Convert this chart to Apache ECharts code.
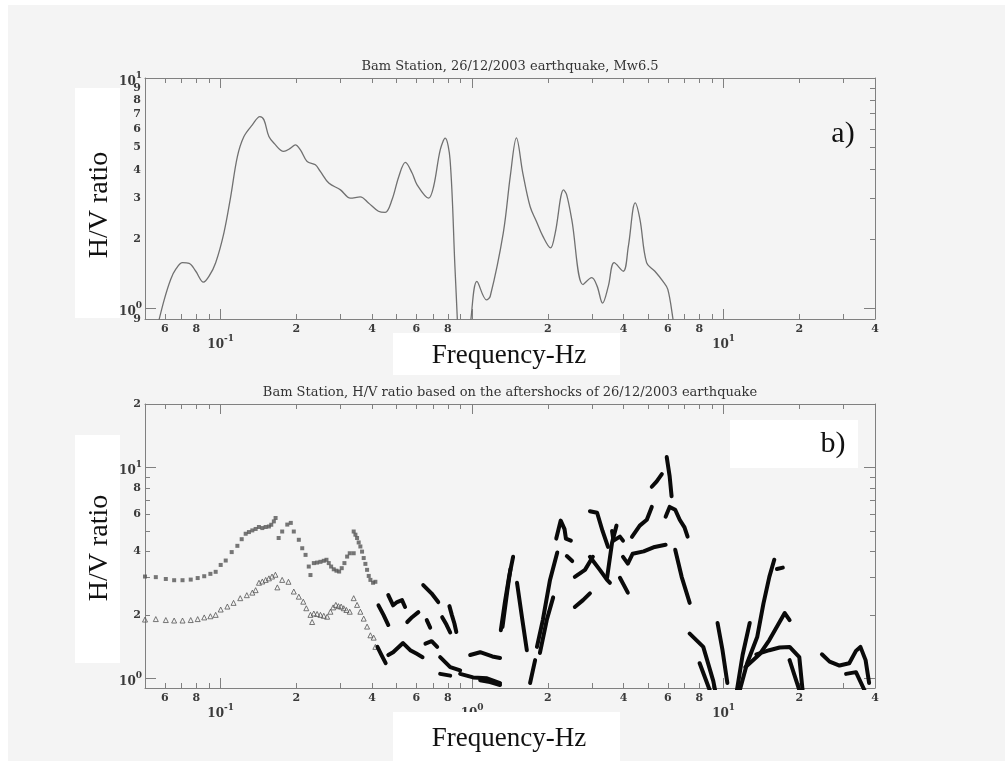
<!DOCTYPE html>
<html><head><meta charset="utf-8">
<script src="https://cdn.jsdelivr.net/npm/echarts@6/dist/echarts.min.js"></script>
<style>html,body{margin:0;padding:0;background:#f4f4f4;overflow:hidden;}#c{width:1005px;height:761px;}</style>
</head><body><div id="c"></div>
<script>
// ---- text ----
const topTitle = 'Bam Station, 26/12/2003 earthquake, Mw6.5';
const bottomTitle = 'Bam Station, H/V ratio based on the aftershocks of 26/12/2003 earthquake';
const xName = 'Frequency-Hz';
const yName = 'H/V ratio';

// ---- ticks / labels ----
const xMinorTicks = [0.06,0.07,0.08,0.09,0.2,0.3,0.4,0.5,0.6,0.7,0.8,0.9,2,3,4,5,6,7,8,9,20,30];
const xMinorLabels = [0.06,0.08,0.2,0.4,0.6,0.8,2,4,6,8,20,40];
const xDecades = [0.1,1,10];
const topYMinorTicks = [2,3,4,5,6,7,8,9];
const topYMinorLabels = [0.9,2,3,4,5,6,7,8,9];
const topYDecades = [1,10];
const botYMinorTicks = [2,3,4,5,6,7,8,9];
const botYMinorLabels = [2,4,6,8,20];
const botYDecades = [1,10];

// ---- a) main shock H/V curve [Hz, ratio] ----
const mainshockHV = [
 [0.0555,0.80],[0.0596,1.09],[0.0633,1.34],[0.0663,1.48],[0.0705,1.58],[0.0749,1.57],[0.0796,1.45],
 [0.0854,1.30],[0.0899,1.38],[0.0955,1.58],[0.103,2.13],[0.1096,3.06],[0.1165,4.56],[0.1237,5.57],
 [0.1336,6.26],[0.1432,6.80],[0.1486,6.58],[0.1555,5.57],[0.163,5.21],[0.178,4.80],[0.1896,4.96],
 [0.198,5.13],[0.2075,4.88],[0.2207,4.34],[0.238,4.20],[0.249,3.93],[0.269,3.50],[0.2995,3.27],
 [0.328,3.01],[0.359,3.05],[0.387,2.87],[0.424,2.64],[0.451,2.61],[0.480,2.96],[0.511,3.74],
 [0.5425,4.30],[0.577,3.87],[0.604,3.44],[0.671,3.01],[0.703,3.39],[0.7465,4.88],[0.781,5.48],
 [0.817,4.42],[0.854,1.52],[0.873,0.90],[0.88,0.70],[0.975,0.70],[0.989,0.90],[1.045,1.31],
 [1.14,1.09],[1.18,1.13],[1.33,2.13],[1.42,3.80],[1.50,5.50],[1.59,3.87],[1.70,2.77],[1.80,2.39],
 [1.91,2.06],[2.05,1.83],[2.14,2.13],[2.31,3.27],[2.375,3.12],[2.49,2.43],[2.76,1.27],[2.99,1.36],
 [3.14,1.25],[3.30,1.055],[3.48,1.25],[3.67,1.58],[3.99,1.45],[4.18,1.86],[4.45,2.87],[4.65,2.43],
 [4.94,1.58],[5.33,1.45],[5.74,1.31],[6.00,1.21],[6.29,0.90],[6.5,0.70]
];

// ---- b) aftershocks ----
const aftershockUpper = [
 [0.050,3.04],[0.0552,3.02],[0.0605,2.96],[0.0653,2.92],[0.0705,2.92],[0.076,2.94],[0.081,2.99],
 [0.086,3.05],[0.091,3.13],[0.0955,3.20],[0.100,3.45],[0.1047,3.62],[0.1106,3.97],[0.1165,4.25],
 [0.1212,4.57],[0.1257,4.85],[0.1295,4.94],[0.1336,5.03],[0.1377,5.11],[0.1419,5.22],[0.1464,5.16],
 [0.1509,5.22],[0.1555,5.25],[0.1589,5.35],[0.1627,5.55],[0.1653,5.76],[0.170,4.63],[0.1756,4.97],
 [0.184,5.36],[0.190,5.46],[0.1953,4.97],[0.2045,4.54],[0.211,4.14],[0.2175,3.85],[0.224,3.39],
 [0.2275,3.09],[0.2346,3.52],[0.2418,3.54],[0.2493,3.57],[0.257,3.61],[0.2634,3.65],[0.269,3.52],
 [0.2749,3.39],[0.2816,3.29],[0.2886,3.24],[0.2958,3.21],[0.3029,3.33],[0.3105,3.52],[0.3183,3.78],
 [0.326,3.92],[0.338,3.92],[0.338,4.97],[0.3434,4.80],[0.3486,4.63],[0.3538,4.41],[0.3593,4.22],
 [0.3649,3.99],[0.3704,3.72],[0.3762,3.49],[0.3821,3.27],[0.3879,3.06],[0.3939,2.93],[0.4036,2.84],
 [0.4122,2.87]
];
const aftershockLower = [
 [0.050,1.90],[0.0552,1.91],[0.0605,1.89],[0.0653,1.88],[0.0705,1.88],[0.076,1.89],[0.081,1.91],
 [0.086,1.945],[0.091,1.97],[0.0955,2.00],[0.100,2.12],[0.1063,2.19],[0.1125,2.28],[0.1196,2.40],
 [0.127,2.48],[0.1336,2.55],[0.1377,2.62],[0.142,2.84],[0.1464,2.88],[0.151,2.93],[0.1555,2.98],
 [0.160,3.04],[0.165,3.10],[0.168,2.70],[0.1756,2.93],[0.186,2.87],[0.1953,2.58],[0.2045,2.44],
 [0.213,2.31],[0.219,2.15],[0.2275,2.00],[0.231,1.85],[0.2346,2.03],[0.2418,2.02],[0.2493,2.00],
 [0.257,1.98],[0.2651,1.96],[0.2732,2.07],[0.280,2.17],[0.287,2.23],[0.2939,2.20],[0.3013,2.19],
 [0.3085,2.15],[0.3162,2.11],[0.326,2.07],[0.338,2.40],[0.3486,2.23],[0.3593,2.07],[0.3704,1.92],
 [0.3821,1.76],[0.3939,1.60],[0.4059,1.56],[0.4122,1.41]
];
const segsLow = [
 [[0.424,2.22],[0.444,2.0],[0.464,1.79]],
 [[0.464,2.48],[0.485,2.22],[0.503,2.30],[0.526,2.35],[0.541,2.18]],
 [[0.552,1.85],[0.577,1.95],[0.611,2.06]],
 [[0.639,2.77],[0.689,2.53],[0.733,2.30]],
 [[0.660,1.89],[0.681,1.74]],
 [[0.760,1.95],[0.790,1.80],[0.818,1.65]],
 [[0.812,2.20],[0.830,2.00],[0.850,1.82],[0.865,1.66]],
 [[0.420,1.41],[0.436,1.29],[0.453,1.18]],
 [[0.464,1.29],[0.485,1.33],[0.531,1.47],[0.567,1.36],[0.600,1.31],[0.635,1.26]],
 [[0.652,1.46],[0.690,1.50],[0.726,1.41]],
 [[0.746,1.26],[0.818,1.13],[0.896,1.09]],
 [[0.746,1.05],[0.818,1.03]],
 [[0.896,1.05],[1.009,1.01],[1.146,1.00],[1.291,0.95]],
 [[0.982,1.29],[1.076,1.33],[1.203,1.27],[1.291,1.25]],
 [[1.076,0.98],[1.178,0.96],[1.291,0.93]]
];
const segsMid = [
 [[1.30,1.69],[1.35,2.30],[1.40,3.00],[1.455,3.77]],
 [[1.32,1.75],[1.38,2.60],[1.42,3.30]],
 [[1.508,2.84],[1.578,1.95],[1.65,1.36]],
 [[1.70,0.95],[1.78,1.22]],
 [[1.81,1.41],[1.91,1.89],[2.04,2.93],[2.18,3.95]],
 [[1.86,1.32],[1.98,1.89],[2.10,2.42]],
 [[2.16,4.6],[2.25,5.6],[2.33,5.1],[2.36,4.6],[2.47,4.5]],
 [[2.38,3.8],[2.50,3.6]],
 [[2.56,3.03],[2.81,3.27],[3.02,3.77]],
 [[2.56,2.18],[2.76,2.35],[2.94,2.53]],
 [[2.94,6.2],[3.14,6.1],[3.30,5.0],[3.47,4.2]],
 [[2.94,3.77],[3.22,3.27],[3.44,2.93],[3.53,2.84]],
 [[3.44,3.0],[3.60,4.4],[3.75,5.3]],
 [[3.60,5.0],[3.65,4.5],[3.87,4.7],[3.98,4.5]],
 [[3.98,3.77],[4.16,3.5],[4.35,3.9],[4.81,4.0],[5.32,4.2],[5.88,4.3]],
 [[3.87,3.0],[4.16,2.55]],
 [[4.32,4.69],[4.64,5.3],[4.95,5.65],[5.18,6.5]],
 [[5.18,8.1],[5.42,8.6],[5.68,9.3]],
 [[5.94,11.2],[6.10,9.1],[6.21,7.3]],
 [[5.88,5.84],[6.10,6.5],[6.42,6.3],[6.69,5.65],[6.99,5.2],[7.19,4.7]],
 [[6.42,4.07],[6.81,3.03],[7.33,2.28]]
];
const segsHigh = [
 [[7.33,1.63],[8.3,1.41],[9.1,0.97],[9.3,0.85]],
 [[8.03,1.18],[8.8,0.88]],
 [[9.46,1.83],[9.9,1.36],[10.35,0.95]],
 [[11.3,0.88],[11.9,1.29],[12.7,1.83]],
 [[11.6,0.88],[12.4,1.18],[13.6,1.57],[14.4,2.26],[15.2,3.03],[15.9,3.65]],
 [[16.3,3.3],[17.2,3.35]],
 [[12.2,1.13],[13.9,1.30],[15.2,1.52],[17.5,2.04],[18.3,1.89]],
 [[13.5,1.30],[15.2,1.36],[16.7,1.40],[18.3,1.41],[20.0,1.26],[20.6,0.88]],
 [[18.3,1.22],[20.0,0.88]],
 [[24.6,1.30],[26.4,1.20],[28.9,1.15],[31.6,1.18],[33.6,1.35],[35.0,1.41],[36.7,1.22],[37.9,0.95]],
 [[30.7,1.05],[33.6,1.07],[36.3,0.88]]
];

// ---- styling helpers ----
const SERIF = 'DejaVu Serif';
const AX = '#808080';
const LBL = '#3a3a3a';
const digitLabel = v => { const e = Math.floor(Math.log10(v) + 1e-9); return String(Math.round(v / Math.pow(10, e))); };
const decadeLabel = v => '{b|10}{s|' + Math.round(Math.log10(v)) + '}';
const rich = {
  b: { fontFamily: SERIF, fontSize: 12, fontWeight: 'bold', color: LBL, padding: [7, 0, 0, 0] },
  s: { fontFamily: SERIF, fontSize: 9, fontWeight: 'bold', color: LBL, padding: [0, 0, 5, 0] }
};
function logAxis(base, o) {
  return Object.assign({
    type: 'log', logBase: 10, splitLine: { show: false }, minorTick: { show: false },
    minorSplitLine: { show: false }, axisPointer: { show: false }
  }, base, o);
}
function xAxes(g) {
  const b = { gridIndex: g, min: 0.05, max: 40 };
  return [
    logAxis(b, { position: 'bottom', axisLine: { show: true, lineStyle: { color: AX, width: 1 } },
      axisTick: { show: true, inside: true, length: 5, customValues: xMinorTicks, lineStyle: { color: AX } },
      axisLabel: { show: true, customValues: xMinorLabels, formatter: digitLabel, margin: 5,
        fontFamily: SERIF, fontSize: 11, fontWeight: 'bold', color: LBL } }),
    logAxis(b, { position: 'bottom', axisLine: { show: false },
      axisTick: { show: true, inside: true, length: 10, customValues: xDecades, lineStyle: { color: AX } },
      axisLabel: { show: true, customValues: xDecades, formatter: decadeLabel, rich: rich, margin: 13 } }),
    logAxis(b, { position: 'top', axisLine: { show: true, lineStyle: { color: AX, width: 1 } },
      axisTick: { show: true, inside: true, length: 5, customValues: xMinorTicks, lineStyle: { color: AX } },
      axisLabel: { show: false } }),
    logAxis(b, { position: 'top', axisLine: { show: false },
      axisTick: { show: true, inside: true, length: 10, customValues: xDecades, lineStyle: { color: AX } },
      axisLabel: { show: false } })
  ];
}
function yAxes(g, max, minorTicks, minorLabels, decades, leftMinor) {
  const b = { gridIndex: g, min: 0.9, max: max };
  return [
    logAxis(b, { position: 'left', axisLine: { show: true, lineStyle: { color: AX, width: 1 } },
      axisTick: { show: leftMinor, inside: true, length: 5, customValues: minorTicks, lineStyle: { color: AX } },
      axisLabel: { show: true, customValues: minorLabels, formatter: digitLabel, margin: 4,
        fontFamily: SERIF, fontSize: 11, fontWeight: 'bold', color: LBL } }),
    logAxis(b, { position: 'left', axisLine: { show: false },
      axisTick: { show: true, inside: true, length: 11, customValues: decades, lineStyle: { color: AX } },
      axisLabel: { show: true, customValues: decades, formatter: decadeLabel, rich: rich, margin: 3 } }),
    logAxis(b, { position: 'right', axisLine: { show: true, lineStyle: { color: AX, width: 1 } },
      axisTick: { show: true, inside: true, length: 5, customValues: minorTicks, lineStyle: { color: AX } },
      axisLabel: { show: false } }),
    logAxis(b, { position: 'right', axisLine: { show: false },
      axisTick: { show: true, inside: true, length: 11, customValues: decades, lineStyle: { color: AX } },
      axisLabel: { show: false } })
  ];
}

const segmentSeries = [].concat(segsLow, segsMid, segsHigh).map(seg => ({
  type: 'line', xAxisIndex: 4, yAxisIndex: 4, data: seg, symbol: 'none', showSymbol: false,
  smooth: false, clip: true, silent: true, z: 3,
  lineStyle: { color: '#0a0a0a', width: 4, cap: 'round', join: 'round' }
}));

const option = {
  backgroundColor: '#f4f4f4',
  animation: false,
  grid: [
    { left: 145, top: 78, width: 730, height: 241, show: false },
    { left: 145, top: 404, width: 730, height: 284, show: false }
  ],
  xAxis: [].concat(xAxes(0), xAxes(1)),
  yAxis: [].concat(
    yAxes(0, 10, topYMinorTicks, topYMinorLabels, topYDecades, false),
    yAxes(1, 20, botYMinorTicks, botYMinorLabels, botYDecades, true)
  ),
  series: [
    { type: 'line', name: 'Mw6.5 mainshock', xAxisIndex: 0, yAxisIndex: 0, data: mainshockHV,
      smooth: 0.35, symbol: 'none', showSymbol: false, clip: true,
      lineStyle: { color: '#707070', width: 1.3 } },
    { type: 'scatter', name: 'aftershocks upper', xAxisIndex: 4, yAxisIndex: 4, data: aftershockUpper,
      symbol: 'rect', symbolSize: 4, clip: true, itemStyle: { color: '#555555' } },
    { type: 'scatter', name: 'aftershocks lower', xAxisIndex: 4, yAxisIndex: 4, data: aftershockLower,
      symbol: 'triangle', symbolSize: 5, clip: true,
      itemStyle: { color: 'rgba(0,0,0,0)', borderColor: '#555', borderWidth: 1 } }
  ].concat(segmentSeries),
  graphic: [
    { type: 'rect', z: 100, shape: { x: 0, y: 0, width: 1005, height: 5 }, style: { fill: '#ffffff' } },
    { type: 'rect', z: 100, shape: { x: 0, y: 0, width: 8, height: 761 }, style: { fill: '#ffffff' } },
    { type: 'text', z: 100, x: 510, y: 67, style: { text: topTitle, font: '13px "DejaVu Serif"', fill: '#333', align: 'center', verticalAlign: 'middle' } },
    { type: 'text', z: 100, x: 510, y: 393, style: { text: bottomTitle, font: '13px "DejaVu Serif"', fill: '#333', align: 'center', verticalAlign: 'middle' } },
    // y-axis name boxes
    { type: 'rect', z: 100, shape: { x: 75, y: 88, width: 45, height: 230 }, style: { fill: '#ffffff' } },
    { type: 'text', z: 101, x: 100, y: 205, rotation: Math.PI / 2, style: { text: yName, font: '28px "Liberation Serif"', fill: '#111', align: 'center', verticalAlign: 'middle' } },
    { type: 'rect', z: 100, shape: { x: 75, y: 435, width: 45, height: 228 }, style: { fill: '#ffffff' } },
    { type: 'text', z: 101, x: 100, y: 548, rotation: Math.PI / 2, style: { text: yName, font: '28px "Liberation Serif"', fill: '#111', align: 'center', verticalAlign: 'middle' } },
    // x-axis name boxes
    { type: 'rect', z: 100, shape: { x: 393, y: 333, width: 227, height: 42 }, style: { fill: '#ffffff' } },
    { type: 'text', z: 101, x: 509, y: 356, style: { text: xName, font: '27px "Liberation Serif"', fill: '#111', align: 'center', verticalAlign: 'middle' } },
    { type: 'rect', z: 100, shape: { x: 393, y: 712, width: 227, height: 49 }, style: { fill: '#ffffff' } },
    { type: 'text', z: 101, x: 509, y: 739, style: { text: xName, font: '27px "Liberation Serif"', fill: '#111', align: 'center', verticalAlign: 'middle' } },
    // panel tags
    { type: 'text', z: 101, x: 843, y: 134, style: { text: 'a)', font: '30px "Liberation Serif"', fill: '#111', align: 'center', verticalAlign: 'middle' } },
    { type: 'rect', z: 100, shape: { x: 730, y: 420, width: 128, height: 48 }, style: { fill: '#ffffff' } },
    { type: 'text', z: 101, x: 833, y: 444, style: { text: 'b)', font: '30px "Liberation Serif"', fill: '#111', align: 'center', verticalAlign: 'middle' } }
  ]
};
const chart = echarts.init(document.getElementById('c'), null, { renderer: 'canvas' });
chart.setOption(option);
</script>
</body></html>
